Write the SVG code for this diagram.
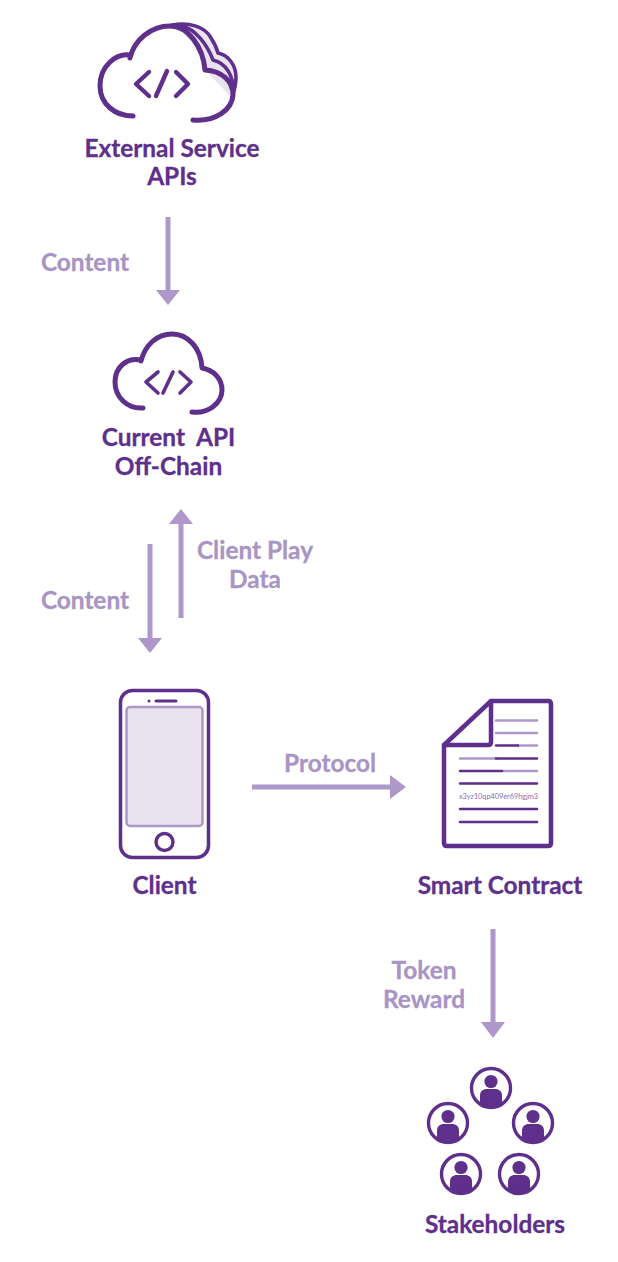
<svg xmlns="http://www.w3.org/2000/svg" width="618" height="1262" viewBox="0 0 618 1262">
  <style>
    text { font-family: Lato, "Open Sans", sans-serif; font-weight: 700; font-size: 24.4px; text-anchor: middle; white-space: pre; stroke-width: 0.3px; }
    .name { fill: #5e2f8b; stroke: #5e2f8b; }
    .flow { fill: #a994c6; stroke: #a994c6; }
    .ln { fill: none; stroke: #5e2f8b; stroke-linecap: round; stroke-linejoin: round; }
    .lt { fill: none; stroke: #ae97c9; stroke-linecap: round; stroke-width: 2.6; }
    .dk { fill: none; stroke: #5e2f8b; stroke-linecap: round; stroke-width: 2.6; }
    .wire { fill: none; stroke: #ae97c9; stroke-width: 5; }
    .head { fill: #ae97c9; }
    .p { fill: #5e2f8b; }
  </style>
  <defs>
    <clipPath id="ring"><circle r="19"/></clipPath>
    <g id="person">
      <circle r="19.500" fill="#fff"/>
      <circle cx="0" cy="-6.500" r="6.600" class="p"/>
      <path class="p" clip-path="url(#ring)" d="M-11 20V8C-11 3 -8 1 -4 1H4C8 1 11 3 11 8V20Z"/>
      <circle r="19.500" fill="none" stroke="#5e2f8b" stroke-width="3.400"/>
    </g>
  </defs>

  <g id="connectors">
    <path class="wire" d="M168 217V292"/>
    <path class="head" d="M156 290H180L168 305Z"/>
    <path class="wire" d="M181 618V522"/>
    <path class="head" d="M169 524H193L181 509Z"/>
    <path class="wire" d="M150 544V640"/>
    <path class="head" d="M138 638H162L150 653Z"/>
    <path class="wire" d="M252 787H392"/>
    <path class="head" d="M390 775V799L406 787Z"/>
    <path class="wire" d="M493 929V1024"/>
    <path class="head" d="M481 1022H505L493 1038Z"/>
    <text class="flow" x="85" y="271">Content</text>
    <text class="flow" x="255" y="559">Client Play</text>
    <text class="flow" x="255" y="588">Data</text>
    <text class="flow" x="85" y="609">Content</text>
    <text class="flow" x="330" y="772">Protocol</text>
    <text class="flow" x="424" y="979">Token</text>
    <text class="flow" x="424" y="1008">Reward</text>
  </g>

  <g id="external-apis">
    <!-- stacked back layers of the cloud -->
    <path d="M172 25C188 22 205 26 211 38C215 44 217 49 218 53C228 55 236 65 236 77C236 86 234 92 232 98L205 70C203 50 190 30 172 25Z" fill="#e9e3ef"/>
    <path class="ln" stroke-width="3.600" d="M172 25C188 22 205 26 211 38C215 44 217 49 218 53C228 55 236 65 236 77C236 86 234 92 232 98"/>
    <path class="ln" stroke-width="3.600" d="M182 26C195 29 207 44 213 60C226 63 234 76 233 92"/>
    <path class="ln" stroke-width="5" d="M133 116C115 116 100 104 100 86C100 66 116 53 130 55M130 58C134 40 151 26 170 26C188 26 203 47 205 70C222 71 233 81 233 95C232 110 215 122 193 120"/>
    <path class="ln" stroke-width="4.400" d="M149 72L136 84L149 96M176 72L188 84L176 96M167 71L156 96"/>
    <text class="name" x="172" y="157">External Service</text>
    <text class="name" x="172" y="185">APIs</text>
  </g>

  <g id="current-api">
    <path class="ln" stroke-width="5" d="M143 408C127 409 115 397 115 382C115 367 127 357 141 360M141 361C145 345 157 334 172 334C188 334 201 348 202 368C214 370 222 379 222 390C222 403 208 414 192 412"/>
    <path class="ln" stroke-width="3.600" d="M158 372L146 382L158 393M180 372L191 382L180 393M173 372L163 393"/>
    <text class="name" x="168.500" y="446">Current  API</text>
    <text class="name" x="168.500" y="475">Off-Chain</text>
  </g>

  <g id="client">
    <rect x="120.500" y="690.500" width="88" height="167" rx="12" fill="#fff" stroke="#5e2f8b" stroke-width="3.500"/>
    <rect x="126.500" y="707" width="76" height="119" rx="3.500" fill="#e9e3ef" stroke="#ae97c9" stroke-width="2.500"/>
    <circle cx="149" cy="701" r="1.500" class="p"/>
    <path class="ln" stroke-width="3" d="M156 701H176"/>
    <circle cx="164.500" cy="842" r="8.500" fill="#fff" stroke="#5e2f8b" stroke-width="3.400"/>
    <text class="name" x="164.500" y="894">Client</text>
  </g>

  <g id="smart-contract">
    <path class="ln" fill="#fff" stroke-width="4.500" d="M491 701H548C550 701 551 702 551 704V843C551 845 550 846 548 846H447C445 846 444 845 444 843V745Z"/>
    <path class="ln" stroke-width="4.500" d="M491 701V742C491 744 490 745 488 745H444"/>
    <path class="lt" d="M496 720.500H537M496 733H537M518 745.500H537M460 758.500H496M503 771H537"/>
    <path class="dk" d="M496 745.500H518M496 758.500H537M460 771H502M460 783.500H537M460 809H537M460 822H537"/>
    <text x="498.500" y="799" style="font-size:7.300px;font-weight:400;stroke:none;fill:#8d6fae">x3yz10qp409er69hgjm3</text>
    <text class="name" x="500" y="894">Smart Contract</text>
  </g>

  <g id="stakeholders">
    <use href="#person" x="491" y="1088"/>
    <use href="#person" x="448" y="1123"/>
    <use href="#person" x="533" y="1123"/>
    <use href="#person" x="461" y="1174"/>
    <use href="#person" x="519" y="1174"/>
    <text class="name" x="495" y="1233">Stakeholders</text>
  </g>
</svg>
